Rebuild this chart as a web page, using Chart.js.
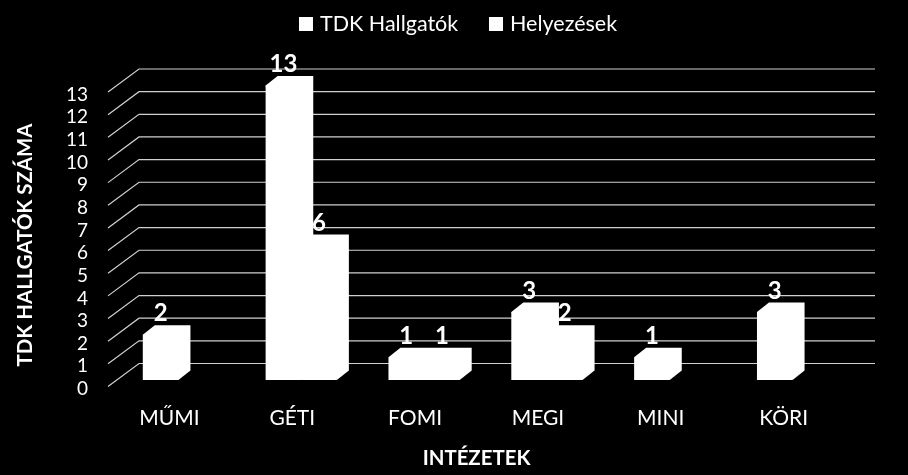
<!DOCTYPE html>
<html>
<head>
<meta charset="utf-8">
<style>
  html, body { margin: 0; padding: 0; background: #000; }
  canvas { display: block; }
</style>
<script src="https://cdn.jsdelivr.net/npm/chart.js@4/dist/chart.umd.min.js"></script>
</head>
<body>
<canvas id="myChart" width="908" height="475"></canvas>
<script>
const categories = ['MŰMI', 'GÉTI', 'FOMI', 'MEGI', 'MINI', 'KÖRI']
const students = [2, 13, 1, 3, 1, 3]
const placements = [null, 6, 1, 2, null, null]
const yTicks = [0, 1, 2, 3, 4, 5, 6, 7, 8, 9, 10, 11, 12, 13]

const FONT = 'Lato, Carlito, sans-serif'
const WHITE = '#ffffff'
const GRID = '#d0d0d0'

// tick labels sit this far under their grid lines
const LABEL_DROP = 2.5
// floor of the fake 3D box, front edge to back edge
const FLOOR_DX = 31
const FLOOR_DY = 23
// bars stand a bit behind the front edge (whole px, or a seam shows between bars)
const BAR_SHIFT_X = 9
const BAR_SHIFT_Y = -6.5 - LABEL_DROP
const BAR_DX = 12
const BAR_DY = 9.5

const fake3d = {
  id: 'fake3d',
  // walls
  beforeDatasetsDraw (chart) {
    const { ctx, chartArea, scales } = chart
    ctx.save()
    ctx.strokeStyle = GRID
    ctx.lineWidth = 1.2
    yTicks.forEach((v) => {
      const y = scales.y.getPixelForValue(v) - LABEL_DROP
      ctx.beginPath()
      ctx.moveTo(chartArea.left, y)
      ctx.lineTo(chartArea.left + FLOOR_DX, y - FLOOR_DY)
      ctx.lineTo(chartArea.right + FLOOR_DX - 1, y - FLOOR_DY)
      ctx.stroke()
    })
    ctx.restore()

    // bar sides and tops, then the bars themselves, all moved back
    ctx.save()
    ctx.translate(BAR_SHIFT_X, BAR_SHIFT_Y)
    ctx.fillStyle = WHITE
    chart.data.datasets.forEach((ds, i) => {
      chart.getDatasetMeta(i).data.forEach((bar, j) => {
        if (ds.data[j] === null) return
        const l = bar.x - bar.width / 2
        const r = bar.x + bar.width / 2
        ctx.beginPath()
        ctx.moveTo(l, bar.y)
        ctx.lineTo(l + BAR_DX, bar.y - BAR_DY)
        ctx.lineTo(r + BAR_DX, bar.y - BAR_DY)
        ctx.lineTo(r + BAR_DX, bar.base - BAR_DY)
        ctx.lineTo(r, bar.base)
        ctx.closePath()
        ctx.fill()
      })
    })
  },
  afterDatasetsDraw (chart) {
    const { ctx } = chart
    ctx.restore()

    // value labels
    ctx.save()
    ctx.fillStyle = WHITE
    ctx.font = 'bold 24px ' + FONT
    ctx.textAlign = 'center'
    ctx.textBaseline = 'middle'
    chart.data.datasets.forEach((ds, i) => {
      chart.getDatasetMeta(i).data.forEach((bar, j) => {
        if (ds.data[j] === null) return
        ctx.fillText(ds.data[j], bar.x + BAR_SHIFT_X, bar.y + BAR_SHIFT_Y - 21)
      })
    })
    ctx.restore()
  },
  // legend and y title: the built in ones can't be placed this exactly
  afterDraw (chart) {
    const { ctx } = chart
    const items = [[299, 320], [489, 510]]
    ctx.save()
    ctx.font = '21.5px ' + FONT
    ctx.textBaseline = 'middle'
    ctx.fillStyle = WHITE
    chart.data.datasets.forEach((ds, i) => {
      ctx.fillRect(items[i][0], 17, 14, 14)
      ctx.fillText(ds.label, items[i][1], 24)
    })
    ctx.translate(25, 245)
    ctx.rotate(-Math.PI / 2)
    ctx.textAlign = 'center'
    ctx.font = 'bold 20.4px ' + FONT
    ctx.fillText('TDK HALLGATÓK SZÁMA', 0, 0)
    ctx.restore()
  }
}

const ctx = document.getElementById('myChart').getContext('2d')
const chart = new Chart(ctx, {
  type: 'bar',
  data: {
    labels: categories,
    datasets: [
      { label: 'TDK Hallgatók', data: students, backgroundColor: WHITE, clip: false },
      { label: 'Helyezések', data: placements, backgroundColor: WHITE, clip: false }
    ]
  },
  plugins: [fake3d],
  options: {
    responsive: false,
    animation: false,
    layout: { padding: { top: 92 + LABEL_DROP, right: 63, left: 0, bottom: 0 } },
    categoryPercentage: 0.58,
    barPercentage: 1,
    plugins: {
      legend: { display: false },
      tooltip: { enabled: false }
    },
    scales: {
      x: {
        grid: { display: false, drawTicks: false },
        border: { display: false },
        ticks: { color: WHITE, padding: 16.5, font: { family: FONT, size: 21 }, maxRotation: 0 },
        title: { display: true, text: 'INTÉZETEK', color: WHITE, font: { family: FONT, size: 20.4, weight: 'bold' }, padding: { top: 10, bottom: 4 } },
        afterFit (scale) { scale.height = 88.5 - LABEL_DROP }
      },
      y: {
        min: 0,
        max: 13,
        grid: { display: false, drawTicks: false },
        border: { display: false },
        ticks: { color: WHITE, padding: 20, stepSize: 1, autoSkip: false, font: { family: FONT, size: 19 } },
        afterFit (scale) { scale.width = 108 }
      }
    }
  }
})
</script>
</body>
</html>
